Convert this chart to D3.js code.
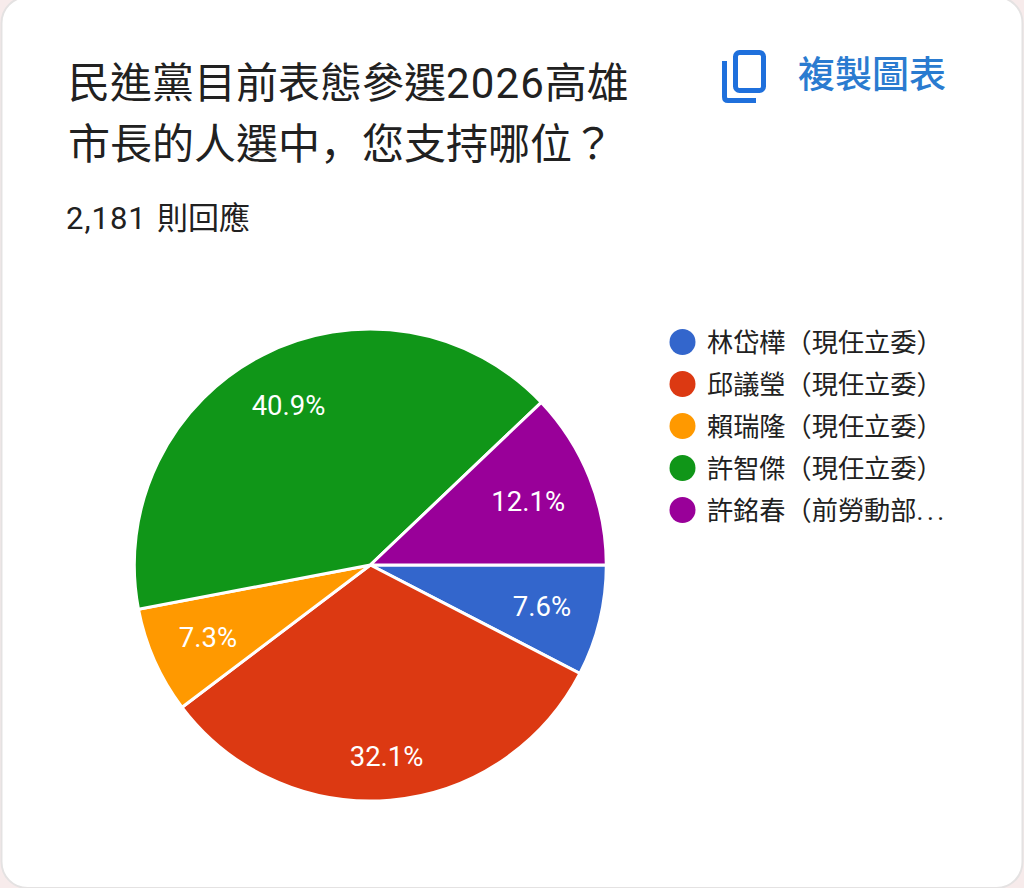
<!DOCTYPE html>
<html><head><meta charset="utf-8">
<script src="https://cdn.jsdelivr.net/npm/d3@7/dist/d3.min.js"></script>
<style>html,body{margin:0;padding:0;background:#f7ebeb}svg{display:block}</style>
</head><body><svg id="c" width="1024" height="888"></svg>
<script>
const categories=["林岱樺\uFF08現任立委\uFF09","邱議瑩\uFF08現任立委\uFF09","賴瑞隆\uFF08現任立委\uFF09","許智傑\uFF08現任立委\uFF09","許銘春\uFF08前勞動部..."];
const values=[7.6,32.1,7.3,40.9,12.1];
const colors=["#3366cc","#dc3912","#ff9900","#109618","#990099"];
const titleLines=["民進黨目前表態參選2026高雄","市長的人選中\uFF0C您支持哪位\uFF1F"];
const responseCount="2,181";
const responseUnit="則回應";
const copyLabel="複製圖表";
const font='Roboto,"Noto Sans CJK TC",sans-serif';
const svg=d3.select("#c").style("font-family",font);
function runs(sel,text){
  text.split(/(\d+|\uFF0C|\.\.\.)/).filter(s=>s).forEach(s=>{
    const t=sel.append("tspan").text(s);
    if(/^\d+$/.test(s)) t.attr("letter-spacing",1.1);
    if(s==="...") t.attr("letter-spacing",3.5);
    if(s==="\uFF0C") t.attr("font-family",'"Noto Sans CJK JP"');
  });
}
svg.append("rect").attr("x",1.5).attr("y",-3).attr("width",1021).attr("height",891).attr("rx",26).attr("fill","#fff").attr("stroke","#e4e2e2").attr("stroke-width",2);
svg.selectAll(".t").data(titleLines).join("text").attr("x",68).attr("y",(d,i)=>98+i*61).attr("font-size",42).attr("fill","#212121").each(function(d){runs(d3.select(this),d)});
const sub=svg.append("text").attr("y",229).attr("font-size",31).attr("fill","#212121");
sub.append("tspan").attr("x",66).attr("letter-spacing",1).text(responseCount);
sub.append("tspan").attr("x",157).text(responseUnit);
svg.append("text").attr("x",798).attr("y",88).attr("font-size",37).attr("font-weight",500).attr("fill","#2a7bd0").text(copyLabel);
const ic=svg.append("g").attr("fill","none").attr("stroke","#1f70dc").attr("stroke-width",5);
ic.append("rect").attr("x",735.5).attr("y",52.5).attr("width",28).attr("height",38).attr("rx",4);
ic.append("path").attr("d","M724.5 61V97Q724.5 100.5 728 100.5H756");
const cx=370.3,cy=565,r=236;
const pie=d3.pie().sort(null).startAngle(Math.PI/2).endAngle(Math.PI*2.5).value(d=>d);
const arc=d3.arc().innerRadius(0).outerRadius(r);
const labelRadius=[176.6,192,177.7,179,170];
const g=svg.append("g").attr("transform",`translate(${cx},${cy})`);
const arcs=pie(values);
g.selectAll("path").data(arcs).join("path").attr("d",arc).attr("fill",(d,i)=>colors[i]).attr("stroke","#fff").attr("stroke-width",3);
g.selectAll("text").data(arcs).join("text").attr("transform",(d,i)=>{const a=(d.startAngle+d.endAngle)/2;return `translate(${labelRadius[i]*Math.sin(a)},${-labelRadius[i]*Math.cos(a)})`;}).attr("text-anchor","middle").attr("dy",9.5).attr("font-size",27.5).attr("fill","#fff").text(d=>d.data.toFixed(1)+"%");
const lg=svg.append("g").selectAll("g").data(categories).join("g").attr("transform",(d,i)=>`translate(0,${342+i*42})`);
lg.append("circle").attr("cx",682.5).attr("r",13).attr("fill",(d,i)=>colors[i]);
lg.append("text").attr("x",707).attr("y",9.5).attr("font-size",26.2).attr("fill","#212121").each(function(d){runs(d3.select(this),d)});
</script></body></html>
